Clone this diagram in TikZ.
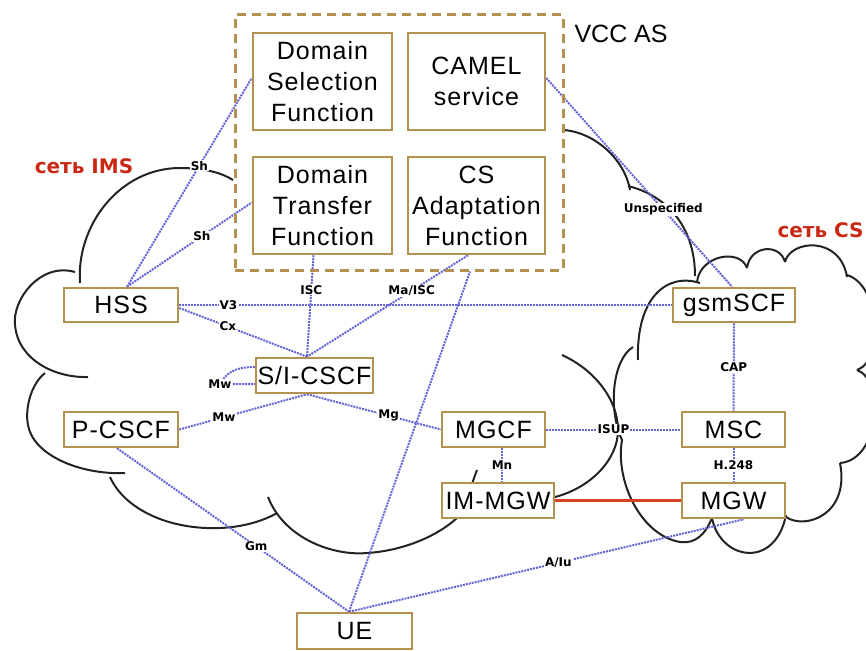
\documentclass[tikz,border=0pt]{standalone}
\usepackage{fontspec}
\setmainfont{Liberation Sans}
\newfontfamily\boxfont[LetterSpace=4]{Liberation Sans}
\newfontfamily\tagfont{DejaVu Sans}
\usetikzlibrary{positioning,calc,backgrounds}
\definecolor{boxtan}{RGB}{180,145,80}
\definecolor{linkblue}{RGB}{100,100,215}
\definecolor{netred}{RGB}{200,40,20}
\definecolor{mgwred}{RGB}{215,65,35}
\definecolor{cloudgray}{RGB}{35,35,35}

\begin{document}
\begin{tikzpicture}[x=1pt,y=-1pt,
  fbox/.style={draw=boxtan, line width=2.5pt, fill=white, inner sep=0pt, align=center,
    font=\boxfont\fontsize{25}{31}\selectfont},
  link/.style={linkblue, line width=2pt, densely dotted},
  lbl/.style={fill=white, text=black, inner sep=1pt, font=\tagfont\bfseries\fontsize{12}{12}\selectfont},
  cloudline/.style={cloudgray, line width=2pt}]
				\useasboundingbox (0,0) rectangle (866,650);
				
				% VCC AS frame
				\node[draw=boxtan, line width=3pt, dash pattern=on 9pt off 6pt, minimum width=328pt, minimum height=255pt] (vcc) at (399,142.5) {};
				\node[anchor=west, font=\fontsize{25}{25}\selectfont] (vcclbl) at (571,34) {VCC AS};
				
				% Functions of VCC AS
				\node[fbox, minimum width=139pt, minimum height=97pt] (dsf) at (322.5,81.5) {Domain\\Selection\\Function};
				\node[fbox, minimum width=137pt, minimum height=97pt] (camel) at (476.5,81.5) {CAMEL\\service};
				\node[fbox, minimum width=139pt, minimum height=97pt] (dtf) at (322.5,205.5) {Domain\\Transfer\\Function};
				\node[fbox, minimum width=137pt, minimum height=97pt] (csaf) at (476.5,205.5) {CS\\Adaptation\\Function};
				
				% IMS and CS elements
				\node[fbox, minimum width=114pt, minimum height=34pt] (hss) at (121,305) {HSS};
				\node[fbox, minimum width=117pt, minimum height=35pt] (sicscf) at (314.5,375.5) {S/I-CSCF};
				\node[fbox, minimum width=114pt, minimum height=35pt] (pcscf) at (121,429.5) {P-CSCF};
				\node[fbox, minimum width=103pt, minimum height=35pt] (mgcf) at (493.5,429.5) {MGCF};
				\node[fbox, minimum width=112pt, minimum height=35pt] (immgw) at (498,500.5) {IM-MGW};
				\node[fbox, minimum width=122pt, minimum height=34pt] (gsmscf) at (734,305) {gsmSCF};
				\node[fbox, minimum width=103pt, minimum height=35pt] (msc) at (733.5,429.5) {MSC};
				\node[fbox, minimum width=103pt, minimum height=35pt] (mgw) at (733.5,500.5) {MGW};
				\node[fbox, minimum width=115pt, minimum height=36pt] (ue) at (354.5,631) {UE};
				
				% Cloud names
				\node[netred, font=\tagfont\bfseries\fontsize{20}{20}\selectfont] (imsname) at (84,166) {сеть IMS};
				\node[netred, anchor=west, font=\tagfont\bfseries\fontsize{20}{20}\selectfont] (csname) at (774,230) {сеть CS};
				
				\begin{scope}[on background layer]
				% IMS cloud
				\draw[cloudline] (80,283) .. controls (76,225) and (120,168) .. (180,168) .. controls (205,168) and (222,173) .. (233,180);
				\draw[cloudline] (75,272) .. controls (40,262) and (12,300) .. (15,325) .. controls (18,360) and (55,378) .. (88,377);
				\draw[cloudline] (45,373) .. controls (30,385) and (25,410) .. (28,425) .. controls (33,455) and (80,475) .. (125,473);
				\draw[cloudline] (110,477) .. controls (125,510) and (170,530) .. (220,528) .. controls (245,527) and (265,520) .. (277,513);
				\draw[cloudline] (268,497) .. controls (285,540) and (335,556) .. (367,553) .. controls (400,551) and (435,538) .. (457,518);
				\draw[cloudline] (472,484) .. controls (474,478) .. (477,470);
				\draw[cloudline] (562,355) .. controls (595,370) and (618,400) .. (618,430) .. controls (618,460) and (590,488) .. (555,497);
				\draw[cloudline] (563,130) .. controls (595,132) and (625,160) .. (630,190);
				\draw[cloudline] (628,186) .. controls (665,195) and (695,225) .. (695,276);
				
				% CS cloud
				\draw[cloudline] (700,283) .. controls (665,272) and (636,300) .. (638,360);
				\draw[cloudline] (633,347) .. controls (612,360) and (608,410) .. (622,440) .. controls (615,480) and (640,535) .. (680,542) .. controls (695,544) and (705,535) .. (712,518);
				\draw[cloudline] (712,518) .. controls (720,560) and (775,570) .. (786,515);
				\draw[cloudline] (786,517) .. controls (805,530) and (850,515) .. (840,463);
				\draw[cloudline] (857,370) .. controls (885,380) and (880,460) .. (840,463);
				\draw[cloudline] (847,275) .. controls (880,285) and (885,360) .. (857,370);
				\draw[cloudline] (785,262) .. controls (790,240) and (840,235) .. (847,277);
				\draw[cloudline] (747,268) .. controls (750,245) and (780,243) .. (785,262);
				\draw[cloudline] (697,282) .. controls (700,255) and (740,248) .. (747,268);
				
				% Interfaces
				\draw[link] ([xshift=6pt]hss.north) -- ([yshift=3.5pt]dsf.west) node[lbl, pos=0.58] (lsha) {Sh};
				\draw[link] ([xshift=6pt]hss.north) -- ([yshift=3pt]dtf.west) node[lbl, pos=0.6] (lshb) {Sh};
				\draw[link] (hss.east) -- (gsmscf.west) node[lbl, pos=0.1] (lvthree) {V3};
				\draw[link] ([yshift=-3pt]hss.east) -- ([xshift=-7.5pt]sicscf.north) node[lbl, pos=0.38] (lcx) {Cx};
				\draw[link] ([xshift=-9pt]dtf.south) -- ([xshift=-7.5pt]sicscf.north) node[lbl, pos=0.34] (lisc) {ISC};
				\draw[link] ([xshift=-8.5pt]csaf.south) -- ([xshift=-7.5pt]sicscf.north) node[lbl, pos=0.35] (lmaisc) {Ma/ISC};
				\coordinate (mwloop) at (220,384);
				\draw[link] ([yshift=8.5pt]sicscf.west) .. controls +(-22,0) and +(6,-10) .. (mwloop) -- ([yshift=-8.5pt]sicscf.west);
				\node[lbl] (lmwa) at (mwloop) {Mw};
				\draw[link] (pcscf.east) -- ([xshift=-7.5pt]sicscf.south) node[lbl, pos=0.35] (lmwb) {Mw};
				\draw[link] ([xshift=-7.5pt]sicscf.south) -- (mgcf.west) node[lbl, pos=0.61] (lmg) {Mg};
				\draw[link] (mgcf.east) -- (msc.west) node[lbl, pos=0.5] (lisup) {ISUP};
				\draw[link] ([xshift=8.5pt]mgcf.south) -- ([xshift=4pt]immgw.north) node[lbl, pos=0.5] (lmn) {Mn};
				\draw[link] (gsmscf.south) -- (msc.north) node[lbl, pos=0.5] (lcap) {CAP};
				\draw[link] (msc.south) -- (mgw.north) node[lbl, pos=0.5] (lh) {H.248};
				\draw[link] ([yshift=3.5pt]camel.east) -- ([xshift=-2pt]gsmscf.north) node[lbl, pos=0.63] (lunsp) {Unspecified};
				\draw[link] ([xshift=-4pt]pcscf.south) -- ([xshift=-5.5pt]ue.north) node[lbl, pos=0.6] (lgm) {Gm};
				\draw[link] ([xshift=-5.5pt]ue.north) -- ([xshift=10.5pt]mgw.south) node[lbl, pos=0.53] (laiu) {A/Iu};
				\draw[link] ([xshift=-5.5pt]ue.north) -- ([xshift=71pt]vcc.south);
				\draw[mgwred, line width=3.5pt] (immgw.east) -- (mgw.west);
				\end{scope}
			\end{tikzpicture}
\end{document}
